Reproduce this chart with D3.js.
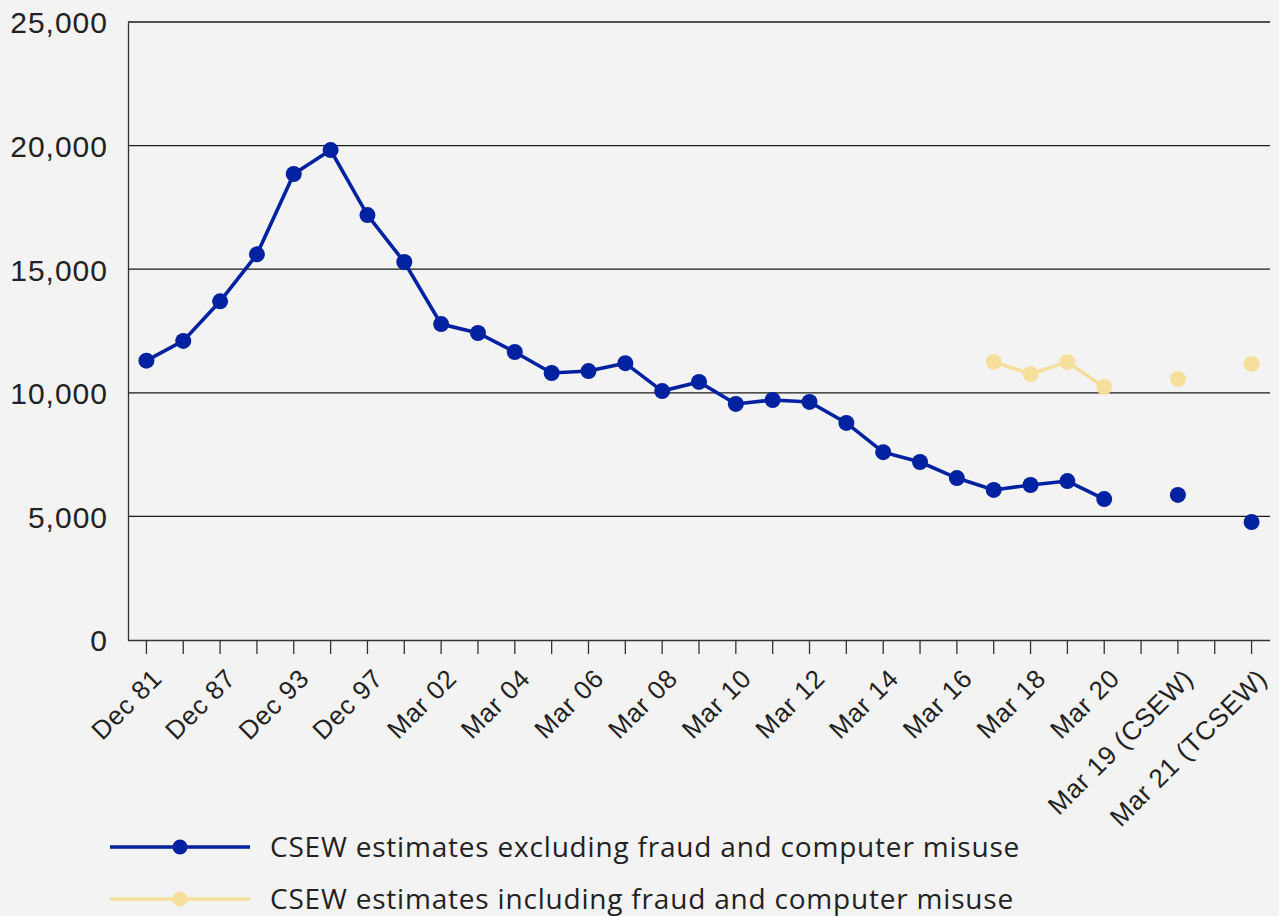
<!DOCTYPE html>
<html>
<head>
<meta charset="utf-8">
<script src="https://cdn.jsdelivr.net/npm/d3@7"></script>
<style>
  body { margin: 0; background: #f3f3f3; }
  svg { display: block; font-family: "Open Sans", Lato, sans-serif; }
</style>
</head>
<body>
<div id="chart"></div>
<script>
// categories, empty strings are spacer columns
const categories = ["Dec 81", "Dec 83", "Dec 87", "Dec 91", "Dec 93", "Dec 95", "Dec 97", "Dec 99",
  "Mar 02", "Mar 03", "Mar 04", "Mar 05", "Mar 06", "Mar 07", "Mar 08", "Mar 09", "Mar 10",
  "Mar 11", "Mar 12", "Mar 13", "Mar 14", "Mar 15", "Mar 16", "Mar 17", "Mar 18", "Mar 19",
  "Mar 20", "", "Mar 19 (CSEW)", "", "Mar 21 (TCSEW)"];
const shownLabels = ["Dec 81", "Dec 87", "Dec 93", "Dec 97", "Mar 02", "Mar 04", "Mar 06", "Mar 08",
  "Mar 10", "Mar 12", "Mar 14", "Mar 16", "Mar 18", "Mar 20", "Mar 19 (CSEW)", "Mar 21 (TCSEW)"];
const excluding = [11300, 12100, 13700, 15600, 18850, 19820, 17190, 15290, 12780, 12420, 11650,
  10800, 10880, 11200, 10070, 10440, 9550, 9710, 9630, 8780, 7600, 7200, 6550, 6070, 6270,
  6430, 5700, null, 5870, null, 4770];
const including = [null, null, null, null, null, null, null, null, null, null, null, null, null,
  null, null, null, null, null, null, null, null, null, null, 11250, 10760, 11250, 10230, null,
  10560, null, 11170];
// only these indices are joined by the line
const lineEnd = 26;
const yTicks = [0, 5000, 10000, 15000, 20000, 25000];
const seriesNames = ["CSEW estimates excluding fraud and computer misuse",
  "CSEW estimates including fraud and computer misuse"];
const colors = ["#0022a0", "#f5df9b"];

const W = 1279, H = 916;
const m = {left: 128, right: 1270, top: 22, bottom: 640};

let svg = d3.select("#chart").append("svg").attr("width", W).attr("height", H);
svg.append("rect").attr("width", W).attr("height", H).attr("fill", "#f3f3f3");

let x = d3.scaleBand().domain(d3.range(categories.length)).range([m.left, m.right]);
let y = d3.scaleLinear().domain([0, 25000]).range([m.bottom, m.top]);
let cx = (i) => x(i) + x.bandwidth() / 2;

// grid lines
svg.append("g")
  .selectAll("line")
  .data(yTicks.filter((d) => d > 0))
  .enter().append("line")
  .attr("x1", m.left).attr("x2", m.right)
  .attr("y1", (d) => y(d)).attr("y2", (d) => y(d))
  .attr("stroke", "#1a1a1a").attr("stroke-width", 1.3);

// y axis
let yAxis = svg.append("g")
  .attr("transform", `translate(${m.left},0)`)
  .call(d3.axisLeft(y).tickValues(yTicks).tickSize(0).tickPadding(20).tickFormat(d3.format(",")));
yAxis.select(".domain").attr("stroke", "#333").attr("stroke-width", 1.3);
yAxis.selectAll("text").attr("font-size", "30px").attr("fill", "#222").attr("dy", "0.36em")
  .attr("letter-spacing", "1px");

// x axis
let xAxis = svg.append("g")
  .attr("transform", `translate(0,${m.bottom})`)
  .call(d3.axisBottom(x).tickSize(14).tickFormat((i) => shownLabels.includes(categories[i]) && i % 2 === 0 ? categories[i] : ""));
xAxis.select(".domain").attr("stroke", "#333").attr("stroke-width", 1.3).attr("d", `M${m.left},0.5H${m.right}`);
xAxis.selectAll(".tick line").attr("stroke", "#333").attr("stroke-width", 1.3);
xAxis.selectAll("text")
  .attr("font-size", "26px").attr("fill", "#222")
  .attr("letter-spacing", "0.7px")
  .attr("text-anchor", "end")
  .attr("dy", "0")
  .attr("transform", "translate(5,28) rotate(-45)");

// series
let series = [excluding, including];
series.forEach((vals, s) => {
  let pts = vals.map((v, i) => ({i: i, v: v})).filter((d) => d.v !== null);
  let line = d3.line().x((d) => cx(d.i)).y((d) => y(d.v));
  svg.append("path")
    .datum(pts.filter((d) => d.i <= lineEnd))
    .attr("d", line)
    .attr("fill", "none")
    .attr("stroke", colors[s])
    .attr("stroke-width", 3.6);
  svg.append("g").selectAll("circle")
    .data(pts).enter().append("circle")
    .attr("cx", (d) => cx(d.i)).attr("cy", (d) => y(d.v))
    .attr("r", 8).attr("fill", colors[s]);
});

// legend
let legend = svg.selectAll(".legend")
  .data(seriesNames).enter()
  .append("g").attr("class", "legend")
  .attr("transform", (d, i) => `translate(110,${847 + i * 52})`);
legend.append("line").attr("x1", 0).attr("x2", 140)
  .attr("stroke", (d, i) => colors[i]).attr("stroke-width", 3.6);
legend.append("circle").attr("cx", 70).attr("r", 7.5).attr("fill", (d, i) => colors[i]);
legend.append("text").attr("x", 160).attr("dy", "0.36em")
  .attr("font-size", "28px").attr("letter-spacing", "0.8px")
  .attr("fill", "#222").text((d) => d);
</script>
</body>
</html>
